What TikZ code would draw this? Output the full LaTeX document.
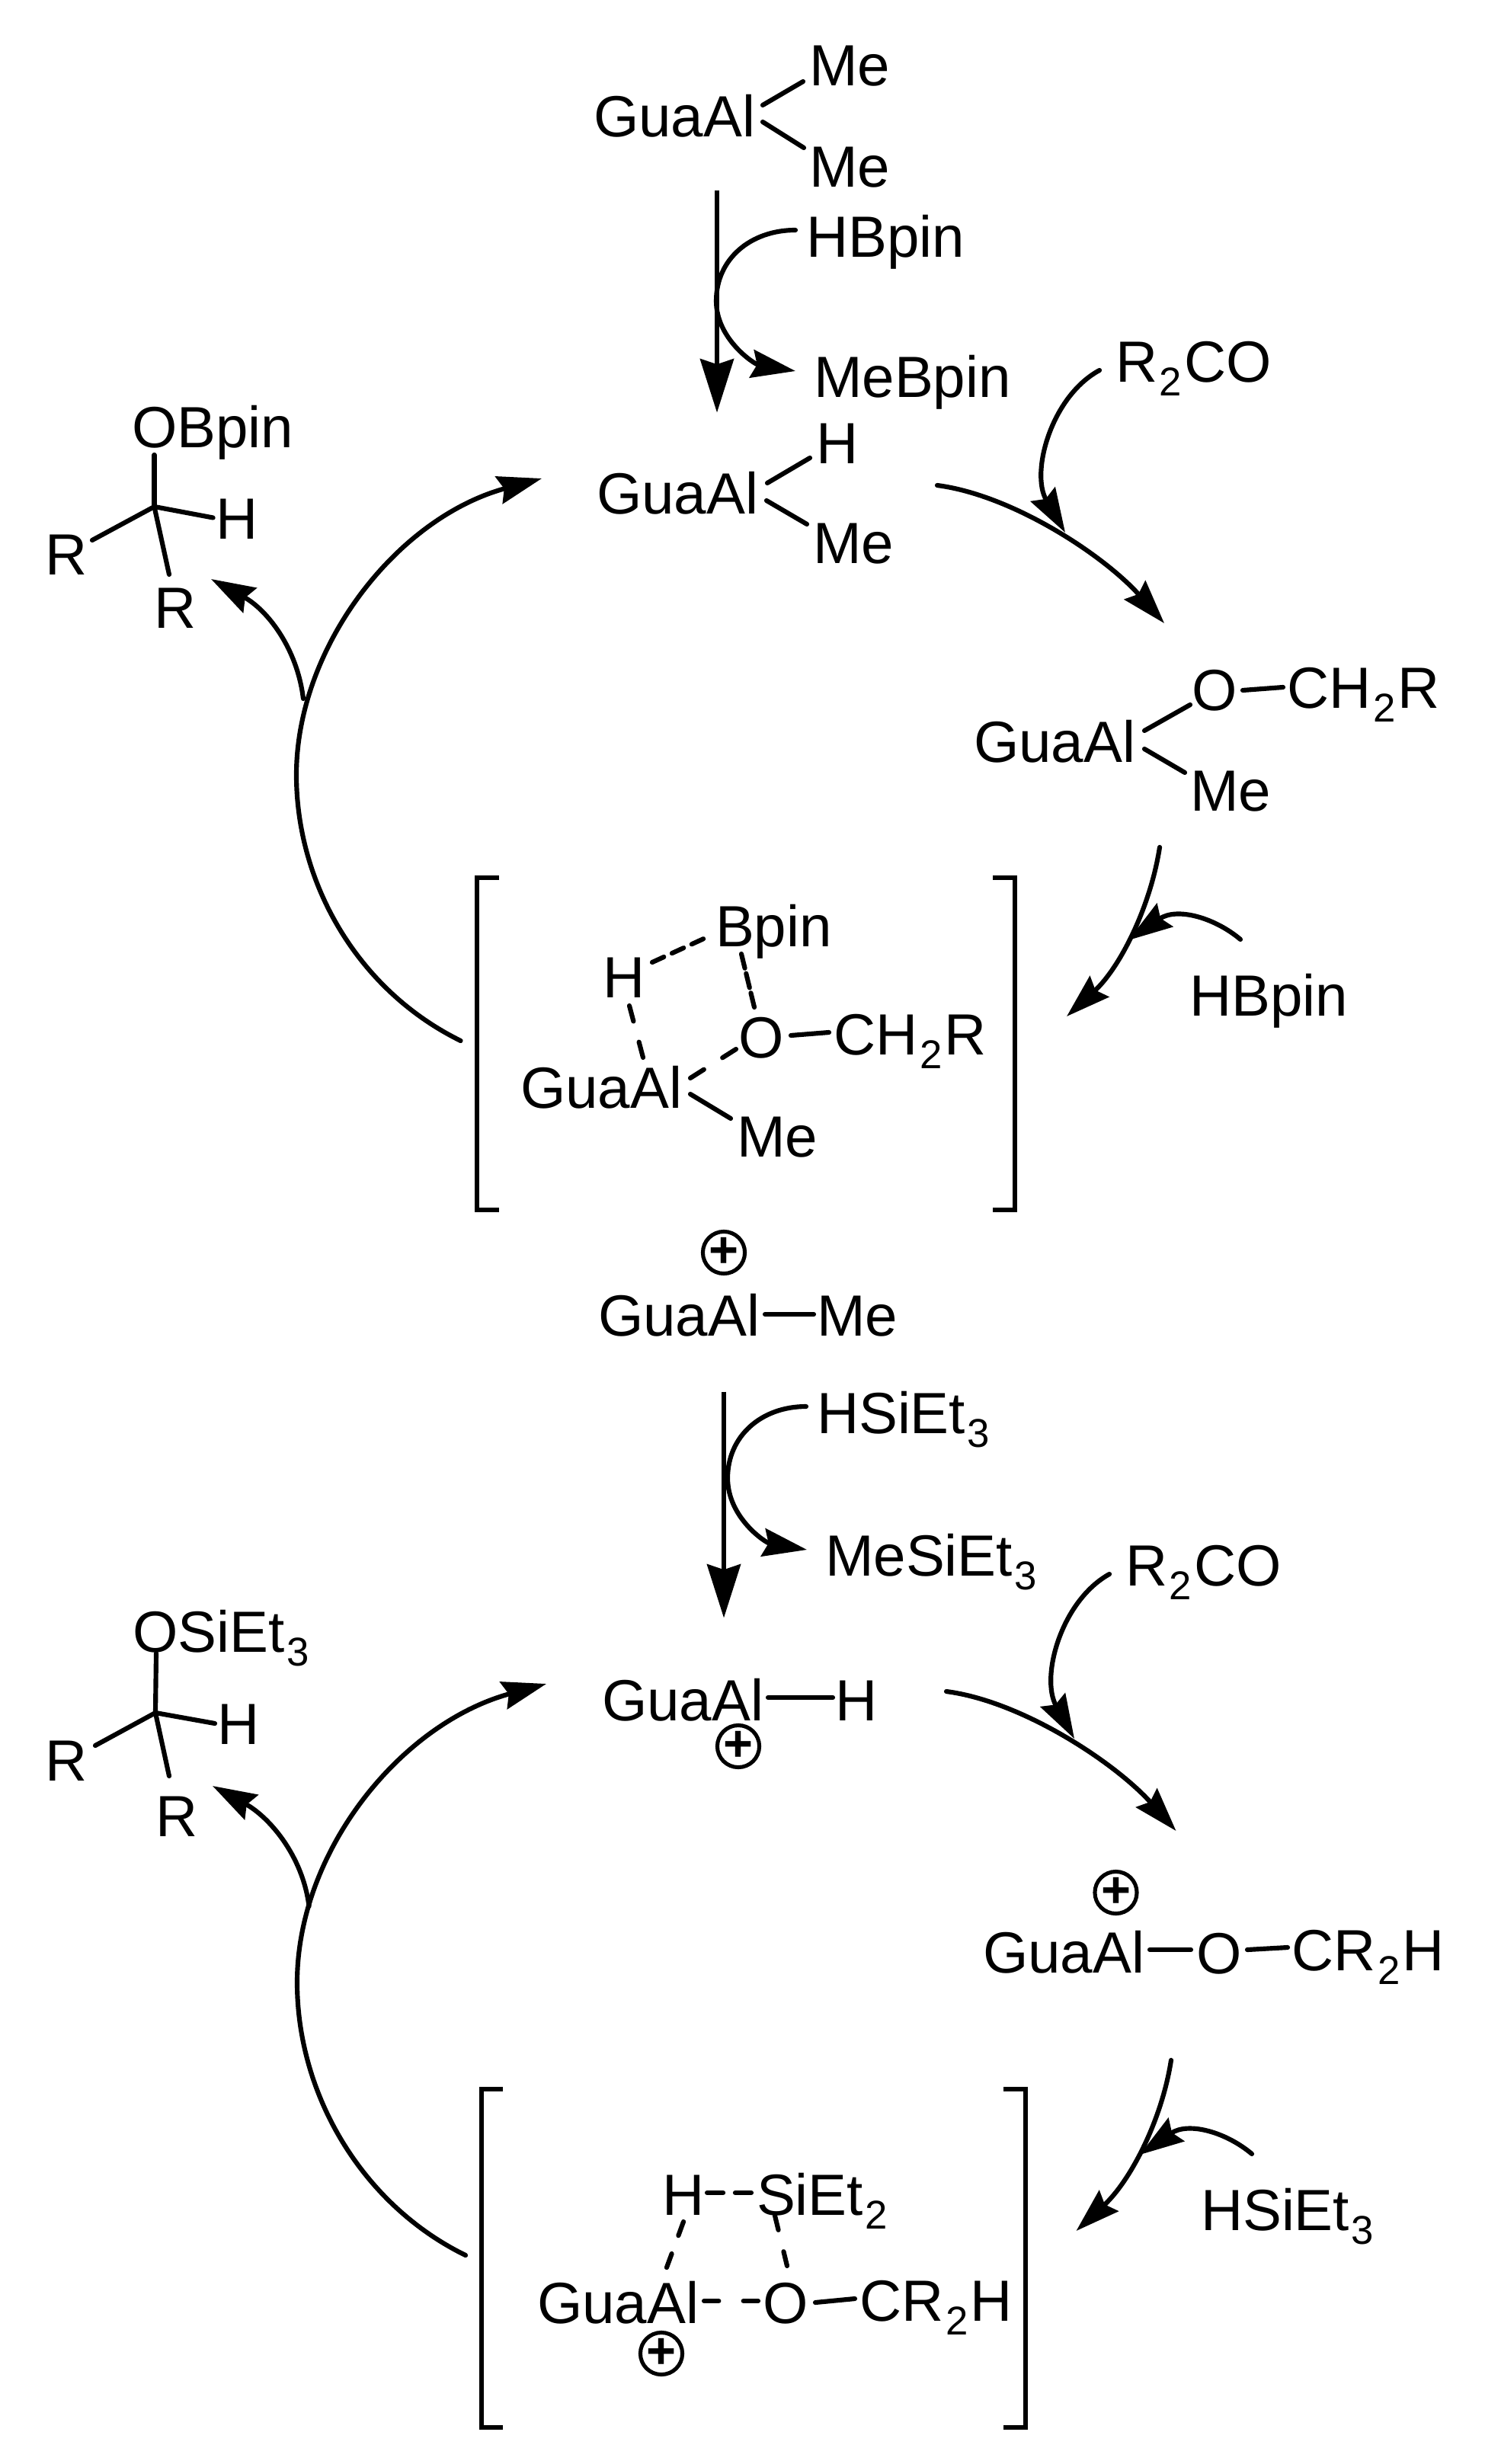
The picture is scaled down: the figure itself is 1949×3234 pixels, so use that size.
\documentclass[tikz,border=0pt]{standalone}
\usepackage{fontspec}
\setmainfont{Liberation Sans}
\usetikzlibrary{arrows.meta}
\newcommand{\sbs}[1]{\kern0.8pt\raisebox{-0.23em}{\fontsize{15pt}{15pt}\selectfont #1}\kern0.8pt}
% \bondc[style]{name}{start}{end}
\newcommand{\bondc}[4][]{\coordinate (#2a) at (#3); \coordinate (#2b) at (#4); \draw[bond,#1] (#2a) -- (#2b);}
% \curvec[style]{name}{start}{c1}{c2}{end}
\newcommand{\curvec}[6][]{\coordinate (#2a) at (#3); \coordinate (#2b) at (#6); \draw[carrow,#1] (#2a) .. controls (#4) and (#5) .. (#2b);}
\tikzset{
  txt/.style={anchor=base west,inner sep=0pt,outer sep=0pt,yshift=-0.015cm,font=\fontsize{21.7pt}{25pt}\selectfont},
  bond/.style={line width=1.75pt,line cap=round},
  brk/.style={line width=1.7pt,line cap=butt,miter limit=10},
  carrow/.style={line width=1.75pt,line cap=round,-{Stealth[length=16.5pt,width=10.5pt,inset=2pt]}},
  varrow/.style={line width=1.75pt,-{Stealth[length=20pt,width=12.5pt,inset=2pt]}},
  chg/.style={circle,draw,line width=1.45pt,inner sep=0pt,outer sep=0pt,minimum size=14.6pt,font=\fontsize{19pt}{19pt}\selectfont\bfseries},
}
\begin{document}
\begin{tikzpicture}[x=0.01cm,y=-0.01cm]
\useasboundingbox (0,0) rectangle (1949,3234);

% ---------- upper cycle: texts
\node[txt] (ga1) at (779,178) {GuaAl};
\node[txt] (me1) at (1062,111) {Me};
\node[txt] (me2) at (1062,244) {Me};
\node[txt] (hb1) at (1058,336) {HBpin};
\node[txt] (mb1) at (1068,520) {MeBpin};
\node[txt] (ga2) at (783,673) {GuaAl};
\node[txt] (h2) at (1071,607) {H};
\node[txt] (me3) at (1067,738) {Me};
\node[txt] (rc1) at (1464,500) {R\sbs{2}CO};
\node[txt] (ob) at (173,586) {OBpin};
\node[txt] (rl1) at (59,753) {R};
\node[txt] (hl1) at (283,706) {H};
\node[txt] (rl2) at (202,823) {R};
\node[txt] (ga3) at (1278,999) {GuaAl};
\node[txt] (o3) at (1564,931) {O};
\node[txt] (cr3) at (1689,928) {CH\sbs{2}R};
\node[txt] (me4) at (1562,1063) {Me};
\node[txt] (hb2) at (1561,1332) {HBpin};
\node[txt] (bp) at (939,1241) {Bpin};
\node[txt] (h5) at (791,1308) {H};
\node[txt] (o5) at (969,1387) {O};
\node[txt] (cr5) at (1094,1383) {CH\sbs{2}R};
\node[txt] (ga5) at (683,1453) {GuaAl};
\node[txt] (me5) at (967,1517) {Me};

% upper cycle: bonds
\bondc{b1}{1001,138}{1054,107}
\bondc{b2}{1001,160}{1055,194}
\bondc{b3}{1007,634}{1063,601}
\bondc{b4}{1006,657}{1059,688}
\bondc{b5}{1502,959}{1562,925}
\bondc{b6}{1502,983}{1555,1014}
\bondc{b7}{1631,906}{1684,902}
\coordinate (c1) at (202.5,665);
\bondc{b8}{202.5,597}{202.5,665}
\draw[bond] (c1) -- (279.6,679.5) coordinate (c1h);
\draw[bond] (c1) -- (121,709) coordinate (c1r);
\draw[bond] (c1) -- (222,754) coordinate (c1s);
\bondc[dash pattern=on 4.8pt off 3.3pt]{d1}{856,1263}{928,1230}
\bondc[dash pattern=on 5.5pt off 2pt]{d2}{973,1252}{990,1322}
\bondc[dash pattern=on 6pt off 8pt]{d3}{826,1320}{844,1388}
\bondc[dash pattern=on 6pt off 8.2pt]{d4}{906,1415}{966,1377}
\bondc{b9}{1038,1359}{1088,1355}
\bondc{b10}{906,1436}{959,1468}

% upper cycle: arrows
\coordinate (v1a) at (941,250); \coordinate (v1b) at (941,541.5);
\draw[varrow] (v1a) -- (v1b);
\coordinate (a1a) at (1044,302); \coordinate (a1m) at (940,395); \coordinate (a1b) at (1044,487);
\draw[carrow] (a1a) .. controls (985,302) and (940,340) .. (a1m) .. controls (940,445) and (990,478) .. (a1b);
\curvec{a2}{1443,486}{1380,520}{1352,620}{1398,699}
\curvec{a3}{1230,637}{1330,650}{1450,730}{1528,818}
\curvec{a4}{1522,1112}{1510,1190}{1470,1270}{1400,1334}
\curvec{a5}{1628,1233}{1595,1205}{1545,1190}{1481,1234}
\coordinate (a6a) at (604.6,1366); \coordinate (a6m) at (389,1017); \coordinate (a6b) at (711,628);
\draw[carrow] (a6a) .. controls (470,1300) and (389,1160) .. (a6m) .. controls (389,850) and (520,680) .. (a6b);
\curvec{a7}{398,917}{390,850}{350,800}{277,760}

% upper bracket
\draw[brk] (655,1152) -- (626,1152) -- (626,1588) -- (655,1588);
\draw[brk] (1303,1152) -- (1332,1152) -- (1332,1588) -- (1303,1588);

% ---------- lower cycle: texts
\node[chg] (p1) at (950,1644) {+};
\node[txt] (ga6) at (785,1752) {GuaAl};
\node[txt] (me6) at (1072,1752) {Me};
\node[txt] (hs1) at (1072,1880) {HSiEt\sbs{3}};
\node[txt] (ms1) at (1083,2067) {MeSiEt\sbs{3}};
\node[txt] (ga7) at (790,2257) {GuaAl};
\node[txt] (h7) at (1096,2257) {H};
\node[chg] (p2) at (969,2292) {+};
\node[txt] (rc2) at (1477,2080) {R\sbs{2}CO};
\node[txt] (os) at (174,2167) {OSiEt\sbs{3}};
\node[txt] (rl3) at (59,2336) {R};
\node[txt] (hl3) at (285,2288) {H};
\node[txt] (rl4) at (204,2409) {R};
\node[chg] (p3) at (1464.5,2484) {+};
\node[txt] (ga8) at (1290,2588) {GuaAl};
\node[txt] (o8) at (1570,2589) {O};
\node[txt] (cr8) at (1695,2585) {CR\sbs{2}H};
\node[txt] (hs2) at (1576,2926) {HSiEt\sbs{3}};
\node[txt] (h9) at (869,2906) {H};
\node[txt] (si9) at (993,2906) {SiEt\sbs{2}};
\node[txt] (ga9) at (705,3048) {GuaAl};
\node[txt] (o9) at (1001,3048) {O};
\node[txt] (cr9) at (1128,3045) {CR\sbs{2}H};
\node[chg] (p4) at (868,3089) {+};

% lower cycle: bonds
\bondc{e1}{1004,1725}{1068,1725}
\bondc{e2}{1008,2228}{1093,2228}
\bondc{e3}{1509,2559}{1563,2559}
\bondc{e4}{1637,2559}{1690,2556}
\coordinate (c2) at (204,2248);
\bondc{e5}{205,2170}{204,2248}
\draw[bond] (c2) -- (282,2262) coordinate (c2h);
\draw[bond] (c2) -- (125,2291) coordinate (c2r);
\draw[bond] (c2) -- (222,2331) coordinate (c2s);
\bondc[dash pattern=on 6pt off 4.5pt]{f1}{928,2878}{986,2878}
\bondc[dash pattern=on 5.5pt off 7.2pt]{f2}{897,2916}{875,2976}
\bondc[dash pattern=on 5.5pt off 8.3pt]{f3}{1017,2908}{1033,2974}
\bondc[dash pattern=on 5.5pt off 9.2pt]{f4}{924,3020}{995,3020}
\bondc{e6}{1070,3022}{1122,3017}

% lower cycle: arrows
\coordinate (v2a) at (950,1826.5); \coordinate (v2b) at (950,2123.5);
\draw[varrow] (v2a) -- (v2b);
\coordinate (g1a) at (1058,1846); \coordinate (g1m) at (955,1940); \coordinate (g1b) at (1059,2034);
\draw[carrow] (g1a) .. controls (999,1846) and (955,1885) .. (g1m) .. controls (955,1992) and (1005,2025) .. (g1b);
\curvec{g2}{1456,2066}{1393,2101}{1365,2201}{1410,2282}
\curvec{g3}{1242,2220}{1342,2233}{1464,2314}{1543.5,2403}
\curvec{g4}{1537,2704}{1525,2782}{1484,2862}{1412.5,2928}
\curvec{g5}{1643,2827}{1610,2799}{1560,2784}{1496,2828}
\coordinate (g6a) at (611,2960); \coordinate (g6m) at (390,2602); \coordinate (g6b) at (717,2210);
\draw[carrow] (g6a) .. controls (476,2894) and (390,2750) .. (g6m) .. controls (390,2430) and (526,2262) .. (g6b);
\curvec{g7}{405.6,2502}{397,2434}{352,2384}{279,2344}

% lower bracket
\draw[brk] (660,2742) -- (632,2742) -- (632,3186) -- (660,3186);
\draw[brk] (1317,2742) -- (1346,2742) -- (1346,3186) -- (1317,3186);
\end{tikzpicture}
\end{document}
